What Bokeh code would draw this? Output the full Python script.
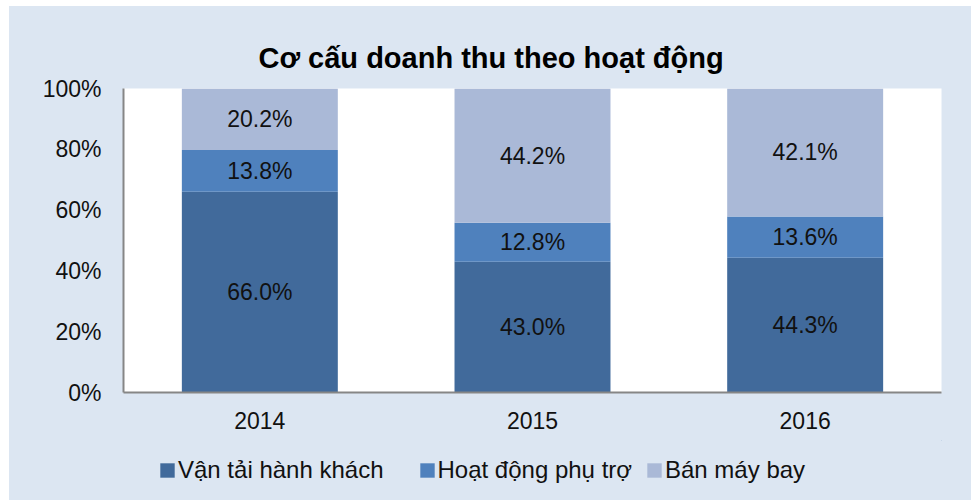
from bokeh.plotting import figure
from bokeh.layouts import column
from bokeh.models import (ColumnDataSource, Range1d, NumeralTickFormatter, FixedTicker,
                          Legend, LegendItem, Title, FactorRange)
from bokeh.core.properties import value
from bokeh.embed import file_html
from bokeh.resources import INLINE

years = ["2014", "2015", "2016"]
series_names = ["Vận tải hành khách", "Hoạt động phụ trợ", "Bán máy bay"]
van_tai = [0.660, 0.430, 0.443]
phu_tro = [0.138, 0.128, 0.136]
ban_may_bay = [0.202, 0.442, 0.421]
colors = ["#416a9b", "#4f81bd", "#aab9d7"]

FONT = "Liberation Sans"
BG = "#dce6f2"
FS = "23px"

p = figure(x_range=FactorRange(*years, range_padding=0), y_range=Range1d(0, 1),
           width=962, height=434, output_backend="svg",
           toolbar_location=None, tools="")
p.background_fill_color = "white"
p.border_fill_color = BG
p.outline_line_color = None
p.min_border_left = 114
p.min_border_right = 30
p.min_border_top = 82
p.min_border_bottom = 48

src = ColumnDataSource(dict(year=years, a=van_tai, b=phu_tro, c=ban_may_bay))
renderers = p.vbar_stack(["a", "b", "c"], x="year", width=0.572, source=src,
                         color=colors, line_color=None)

# segment labels
mid_a, mid_b, mid_c, txt_a, txt_b, txt_c = [], [], [], [], [], []
for a, b, c in zip(van_tai, phu_tro, ban_may_bay):
    mid_a.append(a / 2)
    mid_b.append(a + b / 2)
    mid_c.append(a + b + c / 2)
    txt_a.append(f"{a*100:.1f}%")
    txt_b.append(f"{b*100:.1f}%")
    txt_c.append(f"{c*100:.1f}%")
lab = ColumnDataSource(dict(x=years * 3, y=mid_a + mid_b + mid_c, t=txt_a + txt_b + txt_c))
p.text(x="x", y="y", text="t", source=lab, text_align="center", text_baseline="middle",
       text_font=value(FONT), text_font_size=FS, text_color="#111111")

p.title = Title(text="Cơ cấu doanh thu theo hoạt động", align="left", offset=135,
                text_font=FONT, text_font_size="29px", text_font_style="bold",
                text_color="black", standoff=29)

p.xgrid.grid_line_color = None
p.ygrid.grid_line_color = None
p.yaxis.ticker = FixedTicker(ticks=[0, 0.2, 0.4, 0.6, 0.8, 1.0])
p.yaxis.formatter = NumeralTickFormatter(format="0%")
for ax in (p.xaxis, p.yaxis):
    ax.axis_line_color = "#868686"
    ax.axis_line_width = 2
    ax.major_tick_line_color = None
    ax.minor_tick_line_color = None
    ax.major_label_text_font = FONT
    ax.major_label_text_font_size = FS
    ax.major_label_text_color = "#111111"
p.yaxis.major_label_standoff = 16
p.xaxis.major_label_standoff = 13

# legend strip below the chart
leg = figure(width=962, height=60, output_backend="svg", toolbar_location=None, tools="",
             x_range=Range1d(0, 1), y_range=Range1d(0, 1),
             x_axis_location=None, y_axis_location=None)
leg.min_border_left = 114
leg.min_border_right = 30
leg.min_border_top = 0
leg.min_border_bottom = 0
leg.background_fill_alpha = 0
leg.border_fill_color = BG
leg.outline_line_color = None
leg.xgrid.grid_line_color = None
leg.ygrid.grid_line_color = None
dummy = [leg.vbar(x=[5], top=[5], bottom=[4], width=0.1, color=c, line_color=None) for c in colors]
items = [LegendItem(label=n, renderers=[r]) for n, r in zip(series_names, dummy)]
leg_style = dict(orientation="horizontal",
                 label_text_font=FONT, label_text_font_size="24px", label_text_color="#111111",
                 glyph_width=18, glyph_height=18, spacing=34, label_standoff=2,
                 background_fill_alpha=0, border_line_color=None, margin=0, padding=0)
legend1 = Legend(items=items[:2], location=(35, 16), **leg_style)
legend2 = Legend(items=items[2:], location=(522, 16), **leg_style)
leg.add_layout(legend1, "center")
leg.add_layout(legend2, "center")

layout = column(p, leg, spacing=0, margin=(6, 0, 0, 9), styles={"background-color": BG})
open("out.html", "w").write(file_html(layout, INLINE))
